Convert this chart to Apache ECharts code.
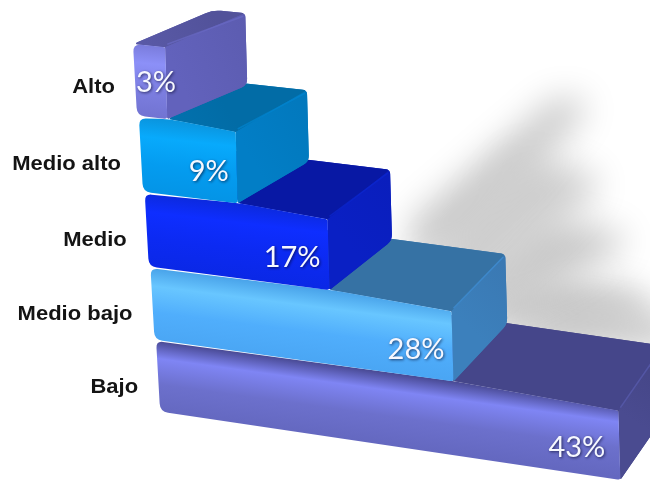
<!DOCTYPE html>
<html>
<head>
<meta charset="utf-8">
<style>html,body{margin:0;padding:0;background:#fff}#chart{width:650px;height:480px}</style>
<script src="https://cdn.jsdelivr.net/npm/echarts@6/dist/echarts.min.js"></script>
</head>
<body>
<div id="chart"></div>
<script>
// Income bands, listed from the bottom of the stack to the top
const categories = ['Bajo', 'Medio bajo', 'Medio', 'Medio alto', 'Alto'];
const shares = [43, 28, 17, 9, 3];

// Block colours by band: front gradient stops, side face, top face, edge highlight
const palette = [
  { front: ['#4a4b96', '#7f85f4', '#6c70cc', '#6468c0'], side: ['#4a4b90', '#434484'], top: ['#45468a', '#4c4e92'], edge: '#5a5cb0' },
  { front: ['#4aa4ea', '#68c6ff', '#50aefc', '#4aa6f4'], side: ['#3c80bc', '#3a78b2'], top: ['#3672a4', '#3c7cb4'], edge: '#3e8ed6' },
  { front: ['#0c2ae0', '#0e2eff', '#0c2af2', '#0a28e6'], side: ['#0a20c4', '#0a1ebc'], top: ['#0818a4', '#0a1cb0'], edge: '#0c26d0' },
  { front: ['#0a96e0', '#08aafc', '#049cf0', '#0494e6'], side: ['#027ec6', '#0278bc'], top: ['#026ca6', '#0274b2'], edge: '#0284d0' },
  { front: ['#7a7cdc', '#8c90f8', '#7c7ee0', '#7072d0'], side: ['#6262bc', '#5c5cb0'], top: ['#52529a', '#5a5aa8'], edge: '#6a6ac4' }
];

const chartEl = document.getElementById('chart');
const chart = echarts.init(chartEl, null, { renderer: 'canvas' });

const labelFont = '"Liberation Sans", Arial, sans-serif';
const valueFont = 'Lato, "Open Sans", sans-serif';

// Rank counted from the top of the stack; nearer rows sit lower and shear more
function rowGeometry(api, index) {
  const value = api.value(0, index);
  const rank = categories.length - 1 - index;
  const origin = api.coord([0, index]);
  const end = api.coord([value, index]);
  const u = end[0] - origin[0];
  const bow = (rank - 2) / 2;
  const topY = origin[1] - 35.5 + 3 * (1 - bow * bow);
  const height = 71.5 - rank;
  const x0 = origin[0] + 0.077 * (topY - 44);
  const slopeTop = 0.1 + 0.011 * rank;
  const slopeBottom = 0.11 + 0.0095 * rank;
  const depth = [80 - 8.75 * rank, -34 - 7.75 * rank];
  const ftl = [x0, topY];
  const ftr = [x0 + u, topY + slopeTop * u];
  const fbl = [x0 + 4, topY + height];
  const fbr = [x0 + u + 2, topY + height + slopeBottom * u];
  const btl = [ftl[0] + depth[0], ftl[1] + depth[1]];
  const btr = [ftr[0] + depth[0], ftr[1] + depth[1]];
  const bbr = [fbr[0] + depth[0], fbr[1] + depth[1]];
  return { value, rank, u, topY, height, x0, slopeTop, ftl, ftr, fbl, fbr, btl, btr, bbr };
}

// Polygon outline with each corner replaced by a quadratic curve
function roundedPath(points, radii) {
  const n = points.length;
  let d = '';
  for (let i = 0; i < n; i++) {
    const p = points[i];
    const a = points[(i + n - 1) % n];
    const b = points[(i + 1) % n];
    const la = Math.hypot(a[0] - p[0], a[1] - p[1]);
    const lb = Math.hypot(b[0] - p[0], b[1] - p[1]);
    const r = Math.min(radii[i], la / 2, lb / 2);
    const s = [p[0] + (a[0] - p[0]) * r / la, p[1] + (a[1] - p[1]) * r / la];
    const e = [p[0] + (b[0] - p[0]) * r / lb, p[1] + (b[1] - p[1]) * r / lb];
    d += (i === 0 ? 'M' : 'L') + s[0].toFixed(2) + ' ' + s[1].toFixed(2);
    d += 'Q' + p[0].toFixed(2) + ' ' + p[1].toFixed(2) + ' ' + e[0].toFixed(2) + ' ' + e[1].toFixed(2);
  }
  return d + 'Z';
}

function faceGradient(from, to, stops) {
  const colorStops = stops.map(function (s) { return { offset: s[0], color: s[1] }; });
  return new echarts.graphic.LinearGradient(from[0], from[1], to[0], to[1], colorStops, true);
}

// Soft cast shadow behind the stack: the sharp polygon is moved off canvas,
// only its blurred shadow lands in view. Outlines are offsets from each
// block's far top corner, one lobe per band (rank 0 = top of the stack).
const SHADOW_SHIFT = 3000;
const shadowLobes = [
  [[310, 84], [338, 86], [338, 102], [225, 228], [165, 248], [165, 208]],
  [[213, 60], [290, 85], [288, 103], [173, 210], [113, 170]],
  [[141, 44], [234, 64], [231, 79], [111, 149], [61, 109]],
  [[35, 21], [138, 38], [145, 66], [-5, 76], [-25, 36]],
  [[-103, -45], [17, -25], [17, 0], [-163, -5]]
];
const shadowTones = ['#cbcbcb', '#d0d0d0', '#cacaca', '#c6c6c6', '#c4c4c4'];

function renderShadow(params, api) {
  const g = rowGeometry(api, params.dataIndex);
  const pts = shadowLobes[g.rank].map(function (o) {
    return [g.btr[0] + o[0] - SHADOW_SHIFT, g.btr[1] + o[1]];
  });
  const tone = shadowTones[g.rank];
  return {
    type: 'polygon',
    silent: true,
    shape: { points: pts },
    style: { fill: tone, shadowColor: tone, shadowBlur: 34, shadowOffsetX: SHADOW_SHIFT }
  };
}

function renderBlock(params, api) {
  const i = params.dataIndex;
  const g = rowGeometry(api, i);
  const c = palette[i];

  // Where a block rests on this one, the front's upper edge rises to meet it
  // and the top face only starts past the point of contact
  const above = i + 1 < categories.length ? rowGeometry(api, i + 1) : null;
  const contact = above ? [above.fbr[0] + 2, above.fbr[1]] : null;
  const topStart = contact || g.ftl;
  const frontStart = contact ? [g.ftl[0], g.ftl[1] - 3] : g.ftl;
  const frontPts = contact ? [frontStart, contact, g.ftr, g.fbr, g.fbl] : [frontStart, g.ftr, g.fbr, g.fbl];
  const frontRadii = contact ? [7, 10, 2, 3, 8] : [8, 2, 3, 8];
  const normal = [frontStart[0] - g.slopeTop * g.height, frontStart[1] + g.height + 3];

  const base = {
    type: 'path',
    shape: { pathData: roundedPath([topStart, g.btl, g.btr, g.bbr, g.fbr, g.ftr], [contact ? 1 : 6, 8, 4, 6, 2, 1]) },
    style: { fill: c.side[1] }
  };
  const top = {
    type: 'path',
    shape: { pathData: roundedPath([topStart, g.ftr, g.btr, g.btl], [contact ? 1 : 6, 1, 4, 8]) },
    style: { fill: faceGradient(g.btl, g.ftl, [[0, c.top[0]], [1, c.top[1]]]) }
  };
  const side = {
    type: 'path',
    shape: { pathData: roundedPath([g.ftr, g.fbr, g.bbr, g.btr], [1, 2, 6, 4]) },
    style: { fill: faceGradient(g.ftr, g.btr, [[0, c.side[0]], [1, c.side[1]]]) }
  };
  const front = {
    type: 'path',
    shape: { pathData: roundedPath(frontPts, frontRadii) },
    style: {
      fill: faceGradient(frontStart, normal, [[0, c.front[0]], [0.24, c.front[1]], [0.6, c.front[2]], [1, c.front[3]]])
    }
  };
  const ridge = {
    type: 'line',
    shape: { x1: g.ftr[0] + 2, y1: g.ftr[1] - 3, x2: g.btr[0] - 2, y2: g.btr[1] + 3 },
    style: { stroke: c.edge, lineWidth: 1.5, opacity: 0.7 }
  };

  // Value sits near the lower right of the front face, kept inside on narrow blocks
  const inset = g.rank === 4 ? 15 : 9;
  const valueRight = Math.max(g.fbr[0] - inset, g.x0 + 43);
  const valueY = g.rank === 0 ? g.fbr[1] - 36 : g.fbr[1] - 32;
  const valueText = {
    type: 'text',
    style: {
      text: g.value + '%',
      x: valueRight,
      y: valueY,
      align: 'right',
      verticalAlign: 'middle',
      font: '400 29px ' + valueFont,
      fill: '#f6f8ff',
      textShadowColor: 'rgba(0,0,30,0.65)',
      textShadowBlur: 3,
      textShadowOffsetX: 1,
      textShadowOffsetY: 1
    }
  };
  // Row name, stretched slightly wider than the stock bold face
  const categoryText = {
    type: 'text',
    x: g.x0 - 18,
    y: g.topY + 43,
    scaleX: 1.1,
    style: {
      text: categories[i],
      x: 0,
      y: 0,
      align: 'right',
      verticalAlign: 'middle',
      font: 'bold 20px ' + labelFont,
      fill: '#141414'
    }
  };

  return { type: 'group', silent: true, children: [base, top, side, front, ridge, valueText, categoryText] };
}

const seriesData = shares.map(function (v, i) { return [v, i]; });

chart.setOption({
  animation: false,
  backgroundColor: '#ffffff',
  tooltip: { show: false },
  grid: { left: 133, top: 42, width: 516, height: 375, containLabel: false },
  xAxis: { type: 'value', min: 0, max: 48, show: false },
  yAxis: { type: 'category', data: categories, show: false },
  series: [
    { type: 'custom', name: 'sombra', coordinateSystem: 'cartesian2d', renderItem: renderShadow, data: seriesData, encode: { x: 0, y: 1 }, z: 1 },
    { type: 'custom', name: 'bloques', coordinateSystem: 'cartesian2d', renderItem: renderBlock, data: seriesData, encode: { x: 0, y: 1 }, z: 2 }
  ]
});
</script>
</body>
</html>
